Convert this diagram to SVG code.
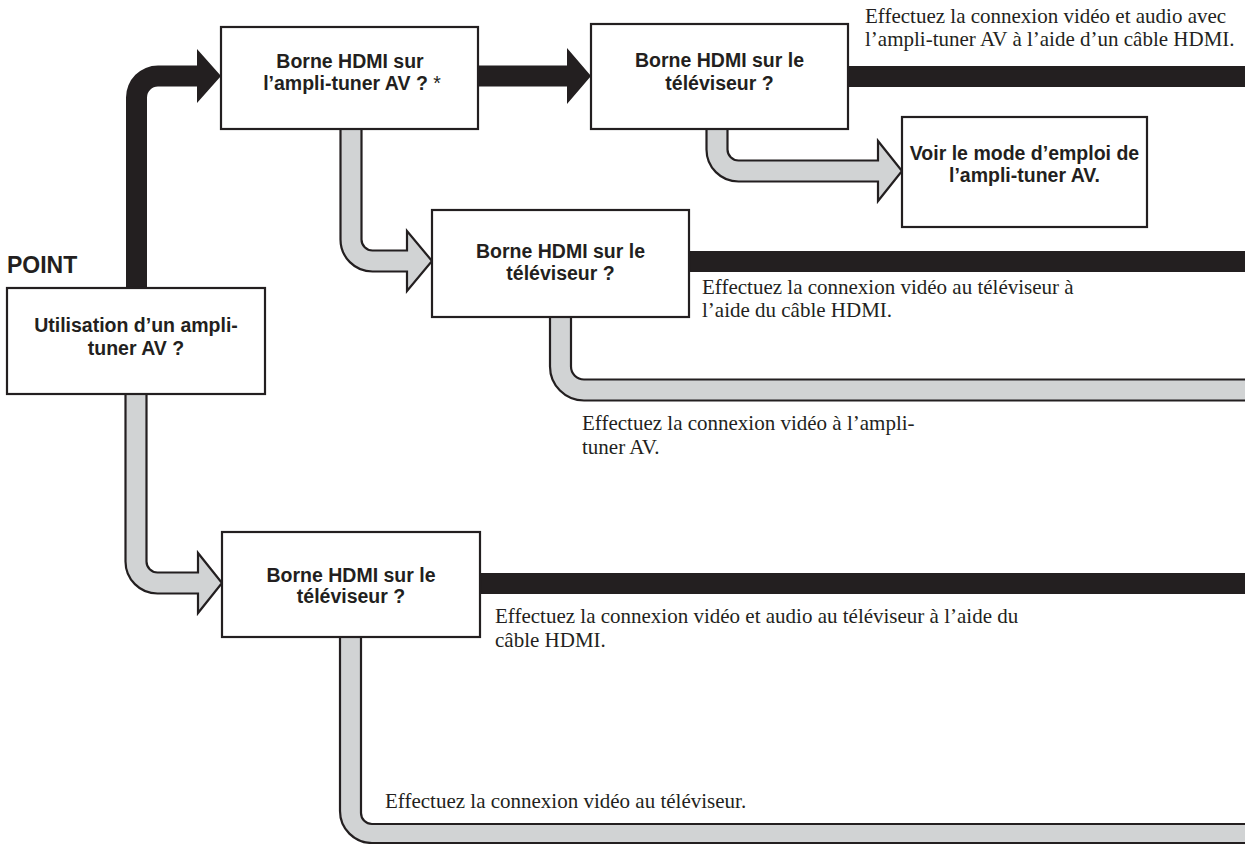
<svg xmlns="http://www.w3.org/2000/svg" width="1245" height="844" viewBox="0 0 1245 844">
<style>
.box{fill:#ffffff;stroke:#231f20;stroke-width:2.2}
.lbl{font-family:"Liberation Sans",Arial,sans-serif;font-weight:bold;font-size:19.5px;fill:#231f20;text-anchor:middle}
.note{font-family:"Liberation Serif","Times New Roman",serif;font-size:21px;fill:#231f20}
.yes{fill:#231f20;stroke:none}
.no{fill:#d1d3d4;stroke:#231f20;stroke-width:2.2;stroke-linejoin:miter}
</style>
<rect width="1245" height="844" fill="#ffffff"/>
<g id="connectors">
  <path class="yes" d="M126,292 L126,97.5 A32,32 0 0 1 158,65.5 L197,65.5 L197,49 L221,76 L197,103 L197,86.5 L158,86.5 A11,11 0 0 0 147,97.5 L147,292 Z"/>
  <path class="yes" d="M476,65.5 L567,65.5 L567,48 L591,76 L567,104 L567,86.5 L476,86.5 Z"/>
  <rect class="yes" x="846" y="66" width="400" height="21"/>
  <rect class="yes" x="687" y="251" width="560" height="21"/>
  <rect class="yes" x="478" y="573" width="770" height="21"/>
  <path class="no" d="M340.5,124 L340.5,239.5 A32,32 0 0 0 372.5,271.5 L407,271.5 L407,291 L432,261 L407,231 L407,250.5 L372.5,250.5 A11,11 0 0 1 361.5,239.5 L361.5,124 Z"/>
  <path class="no" d="M706.5,124 L706.5,149.5 A32,32 0 0 0 738.5,181.5 L878,181.5 L878,201 L902,171 L878,141 L878,160.5 L738.5,160.5 A11,11 0 0 1 727.5,149.5 L727.5,124 Z"/>
  <path class="no" d="M125.5,388 L125.5,561.5 A32,32 0 0 0 157.5,593.5 L198,593.5 L198,613 L222,583 L198,553 L198,572.5 L157.5,572.5 A11,11 0 0 1 146.5,561.5 L146.5,388 Z"/>
  <path class="no" d="M550,312 L550,366.5 A34,34 0 0 0 584,400.5 L1252,400.5 L1252,379.5 L584,379.5 A13,13 0 0 1 571,366.5 L571,312 Z"/>
  <path class="no" d="M340,632 L340,811 A32,32 0 0 0 372,843 L1252,843 L1252,824 L372,824 A11,11 0 0 1 361,813 L361,632 Z"/>
</g>
<text class="note" x="865" y="23">Effectuez la connexion vidéo et audio avec</text>
<text class="note" x="865" y="46">l’ampli-tuner AV à l’aide d’un câble HDMI.</text>
<text class="note" x="702" y="294">Effectuez la connexion vidéo au téléviseur à</text>
<text class="note" x="702" y="317">l’aide du câble HDMI.</text>
<text class="note" x="582" y="430">Effectuez la connexion vidéo à l’ampli-</text>
<text class="note" x="582" y="454">tuner AV.</text>
<text class="note" x="495" y="623">Effectuez la connexion vidéo et audio au téléviseur à l’aide du</text>
<text class="note" x="495" y="647">câble HDMI.</text>
<text class="note" x="385" y="808">Effectuez la connexion vidéo au téléviseur.</text>
<g id="nodeA">
  <text x="7" y="273" style="font-family:'Liberation Sans',Arial,sans-serif;font-weight:bold;font-size:23px;fill:#231f20">POINT</text>
  <rect class="box" x="7" y="288" width="258" height="106"/>
  <text class="lbl" x="136" y="332">Utilisation d’un ampli-</text>
  <text class="lbl" x="136" y="355">tuner AV ?</text>
</g>
<g id="nodeB">
  <rect class="box" x="221" y="27" width="257" height="102"/>
  <text class="lbl" x="350" y="68">Borne HDMI sur</text>
  <text class="lbl" x="352" y="90">l’ampli-tuner AV ? <tspan font-weight="normal">*</tspan></text>
</g>
<g id="nodeC">
  <rect class="box" x="591" y="24" width="257" height="105"/>
  <text class="lbl" x="719.5" y="67">Borne HDMI sur le</text>
  <text class="lbl" x="719.5" y="90">téléviseur ?</text>
</g>
<g id="nodeD">
  <rect class="box" x="902" y="117" width="245" height="110"/>
  <text class="lbl" x="1024.5" y="160">Voir le mode d’emploi de</text>
  <text class="lbl" x="1024.5" y="182">l’ampli-tuner AV.</text>
</g>
<g id="nodeE">
  <rect class="box" x="432" y="210" width="257" height="107"/>
  <text class="lbl" x="560.5" y="258">Borne HDMI sur le</text>
  <text class="lbl" x="560.5" y="280">téléviseur ?</text>
</g>
<g id="nodeF">
  <rect class="box" x="222" y="532" width="258" height="105"/>
  <text class="lbl" x="351" y="582">Borne HDMI sur le</text>
  <text class="lbl" x="351" y="603">téléviseur ?</text>
</g>
</svg>
